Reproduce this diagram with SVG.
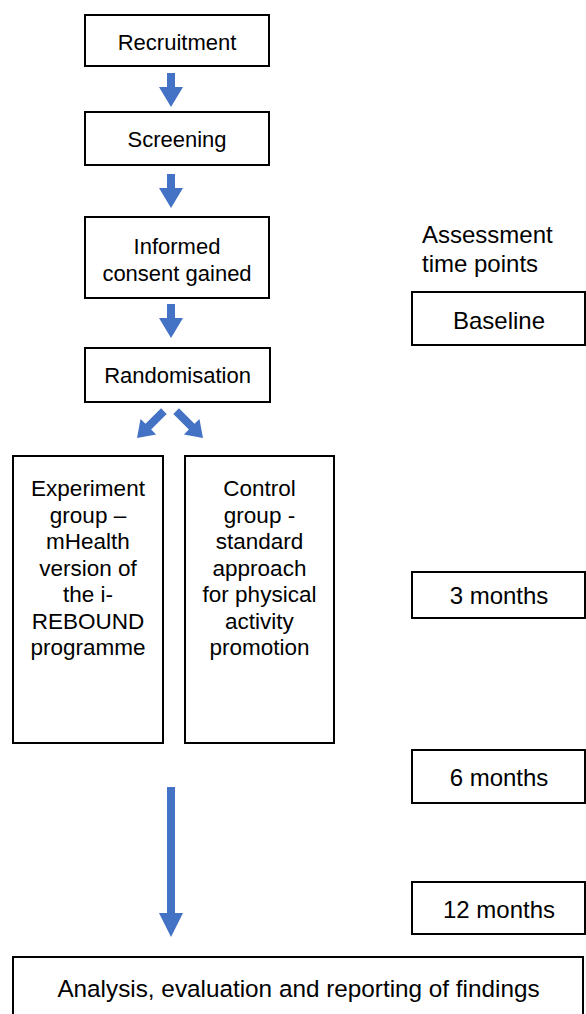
<svg xmlns="http://www.w3.org/2000/svg" width="586" height="1014" viewBox="0 0 586 1014">
<defs>
<style>
.box{fill:#fff;stroke:#000;stroke-width:2}
.t{font-family:"Liberation Sans",Arial,sans-serif;font-size:22px;fill:#000;text-anchor:middle}
.g{font-size:22.5px}
.r{font-size:24px}
.a{font-size:24.3px}
.s{text-anchor:start}
.arr{fill:#4472C4}
</style>
<path id="sa" d="M-4,-34 L4,-34 L4,-20 L12,-20 L0,0 L-12,-20 L-4,-20 Z"/>
<path id="da" d="M-4,-38 L4,-38 L4,-16 L11,-16 L0,0 L-11,-16 L-4,-16 Z"/>
</defs>
<rect width="586" height="1014" fill="#fff"/>
<g id="connectors" class="arr">
<use href="#sa" x="171" y="107"/>
<use href="#sa" x="171" y="208"/>
<use href="#sa" x="171" y="338"/>
<use href="#da" transform="translate(137,438) rotate(45)"/>
<use href="#da" transform="translate(203,438) rotate(-45)"/>
<path d="M167,787 L175,787 L175,913 L183,913 L171,937 L159,913 L167,913 Z"/>
</g>
<g id="recruitment"><rect class="box" x="85" y="15" width="184" height="51"/><text class="t" x="177" y="50">Recruitment</text></g>
<g id="screening"><rect class="box" x="85" y="112" width="184" height="53"/><text class="t" x="177" y="147">Screening</text></g>
<g id="consent"><rect class="box" x="85" y="217" width="184" height="81"/><text class="t" x="177" y="254">Informed</text><text class="t" x="177" y="281">consent gained</text></g>
<g id="randomisation"><rect class="box" x="85" y="348" width="185" height="54"/><text class="t" x="177.5" y="383">Randomisation</text></g>
<g id="experiment"><rect class="box" x="13" y="456" width="150" height="287"/>
<text class="t g" x="88" y="496">Experiment</text>
<text class="t g" x="88" y="522.5">group –</text>
<text class="t g" x="88" y="549">mHealth</text>
<text class="t g" x="88" y="575.5">version of</text>
<text class="t g" x="88" y="602">the i-</text>
<text class="t g" x="88" y="628.5">REBOUND</text>
<text class="t g" x="88" y="655">programme</text>
</g>
<g id="control"><rect class="box" x="185" y="456" width="149" height="287"/>
<text class="t g" x="259.5" y="496">Control</text>
<text class="t g" x="259.5" y="522.5">group -</text>
<text class="t g" x="259.5" y="549">standard</text>
<text class="t g" x="259.5" y="575.5">approach</text>
<text class="t g" x="259.5" y="602">for physical</text>
<text class="t g" x="259.5" y="628.5">activity</text>
<text class="t g" x="259.5" y="655">promotion</text>
</g>
<g id="assessment-label"><text class="t r s" x="422" y="243">Assessment</text><text class="t r s" x="422" y="272">time points</text></g>
<g id="baseline"><rect class="box" x="412" y="292" width="173" height="53"/><text class="t r" x="499" y="329">Baseline</text></g>
<g id="m3"><rect class="box" x="412" y="572" width="173" height="46"/><text class="t r" x="499" y="604">3 months</text></g>
<g id="m6"><rect class="box" x="412" y="750" width="173" height="53"/><text class="t r" x="499" y="786">6 months</text></g>
<g id="m12"><rect class="box" x="412" y="882" width="173" height="52"/><text class="t r" x="499" y="918">12 months</text></g>
<g id="analysis"><rect class="box" x="13" y="957" width="570" height="70"/><text class="t a" x="298.5" y="997">Analysis, evaluation and reporting of findings</text></g>
</svg>
